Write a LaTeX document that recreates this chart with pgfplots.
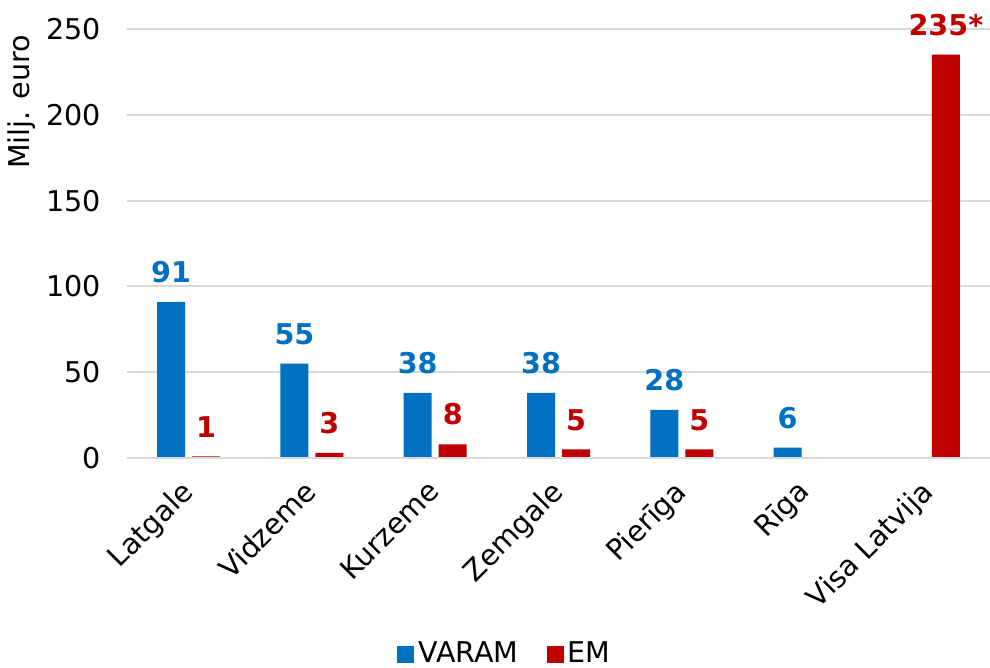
\documentclass[border=0pt]{standalone}
\usepackage{pgfplots}
\pgfplotsset{compat=1.18}
\usepackage{fontspec}
\setmainfont{DejaVu Sans}
\definecolor{cblue}{HTML}{0070C0}
\definecolor{cred}{HTML}{C00000}
\definecolor{cgrid}{HTML}{D9D9D9}
\newcommand{\fs}{\fontsize{14.3}{17}\selectfont}
\begin{document}
\fs
\begin{tikzpicture}
\useasboundingbox (-63.5pt,-105pt) rectangle (431.5pt,229pt);
\begin{axis}[
  scale only axis,
  width=431.5pt, height=214.5pt,
  xmin=-0.5, xmax=6.5,
  ymin=0, ymax=250,
  ytick={0,50,100,150,200,250},
  xtick={0,1,2,3,4,5,6},
  xticklabels={Latgale,Vidzeme,Kurzeme,Zemgale,Pierīga,Rīga,Visa Latvija},
  /pgf/number format/assume math mode=true,
  ybar,
  bar width=14pt,
  axis line style={draw=none},
  tick style={draw=none},
  ymajorgrids,
  grid style={cgrid, line width=1pt},
  yticklabel style={xshift=-8pt, font=\fs},
  xticklabel style={rotate=45, anchor=north east, font=\fs, xshift=-2.5pt, yshift=4pt},
  ylabel={Milj. euro},
  every axis y label/.style={at={(axis description cs:0,0.83)}, xshift=-52.5pt, rotate=90, anchor=center, font=\fs},
  point meta=explicit symbolic,
  nodes near coords,
  every node near coord/.append style={font=\bfseries\fs, yshift=4.5pt},
  legend columns=2,
  legend style={at={(axis description cs:0.439,-0.458)}, anchor=center, draw=none, font=\fs, /tikz/every even column/.append style={column sep=12pt}},
  legend image code/.code={\fill[#1] (0pt,-4.25pt) rectangle (8.5pt,4.25pt);},
  clip=false,
]
\addplot[fill=cblue, draw=none, bar shift=-8.75pt, every node near coord/.append style={text=cblue}]
  coordinates {(0,91) [91] (1,55) [55] (2,38) [38] (3,38) [38] (4,28) [28] (5,6) [6]};
\addlegendentry{VARAM}
\addplot[fill=cred, draw=none, bar shift=8.75pt, every node near coord/.append style={text=cred}]
  coordinates {(0,1) [1] (1,3) [3] (2,8) [8] (3,5) [5] (4,5) [5] (6,235) [235*]};
\addlegendentry{EM}
\draw[cgrid, line width=1pt] (axis cs:-0.5,0) -- (axis cs:6.5,0);
\end{axis}
\end{tikzpicture}
\end{document}
